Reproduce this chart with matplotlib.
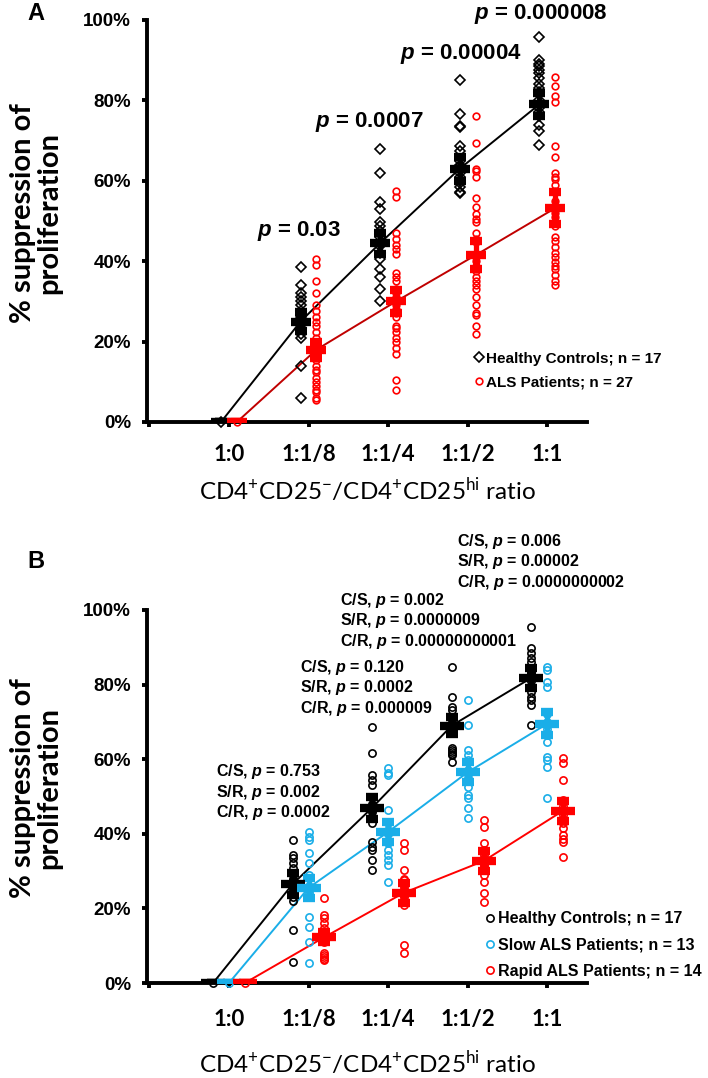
import numpy as np
import matplotlib.pyplot as plt
from matplotlib.lines import Line2D

plt.rcParams['font.family'] = ['Liberation Sans', 'DejaVu Sans']
plt.rcParams['mathtext.fontset'] = 'custom'
plt.rcParams['mathtext.rm'] = 'Lato'
plt.rcParams['mathtext.it'] = 'Liberation Sans:italic:bold'
plt.rcParams['mathtext.bf'] = 'Lato:bold'

ratios = ['1:0', '1:1/8', '1:1/4', '1:1/2', '1:1']

# ---- panel A: controls vs all ALS patients (% suppression)
hc_a = [
    [0],
    [38.5, 34, 32, 31, 30, 29, 27.5, 26.5, 26, 25.5, 25, 24.5, 23.5, 22, 21, 14, 6],
    [68, 62, 54.7, 53, 49.7, 48.7, 47.5, 46.7, 46, 44.5, 43.7, 42, 40.5, 38, 36, 33, 30],
    [85, 76.5, 73.7, 73.5, 68.7, 67.5, 65, 64, 63.7, 63, 62, 61, 60, 59.5, 58.5, 57.2, 57],
    [95.7, 90, 89, 88.5, 87.5, 86.7, 85.5, 84, 83, 82, 80, 78, 77, 76, 74, 72.5, 69],
]
als_a = [
    [0],
    [40.5, 39, 35, 32, 29, 27.5, 26, 25, 24, 22.5, 21, 20, 19, 18, 17, 16.5, 15.5, 14, 13,
     12.5, 11, 10, 9, 8, 7.5, 6, 5.5],
    [57.5, 56, 47, 45.5, 44, 43, 41.7, 37, 36, 35, 33, 32, 31, 30, 29, 28, 27, 26, 24, 23.5,
     22.5, 21, 20, 18.5, 17, 10.5, 8],
    [76, 69.5, 63, 62.5, 61, 55.7, 53.5, 51.7, 50.5, 49.7, 47, 45.5, 44.7, 41, 40, 38.7, 37.5,
     36, 35, 34, 33, 31, 29, 27, 26.7, 24, 22],
    [85.7, 83.7, 81, 79.5, 68.7, 66, 62, 61, 60.5, 59, 57.5, 55, 53, 52, 51, 48.7, 46, 45,
     43.5, 42, 41, 39.7, 38.7, 38, 36.5, 35, 34],
]
hc_a_mean = [0, 25, 44.5, 63, 79]
hc_a_sem = [0, 2.4, 2.6, 3, 2.8]
als_a_mean = [0, 18, 30, 41.5, 53.2]
als_a_sem = [0, 2, 2.9, 3.5, 4]
p_a = ['0.03', '0.0007', '0.00004', '0.000008']
p_a_x = [0.88, 1.77, 2.92, 3.92]
p_a_y = [47.5, 74.6, 91.5, 101.5]

# ---- panel B: controls vs slow vs rapid ALS
hc_b = [
    [0],
    [38.3, 34.3, 33.5, 32.2, 30.8, 29, 28, 27.5, 27, 26, 25.7, 25, 24.4, 23, 22, 14.2, 5.6],
    [68.6, 61.7, 55.8, 54.4, 53, 49.9, 48, 47.5, 46.5, 45.8, 44.5, 43, 37.8, 36.5, 35.7, 33, 30.3],
    [84.7, 76.7, 74, 73.2, 71, 70, 69.5, 69, 68.5, 68, 67, 63, 62.5, 62, 61.5, 61.1, 59.2],
    [95.4, 89.8, 88.5, 87.1, 86, 84.5, 83.5, 83, 82.5, 82, 81, 79.4, 78, 76.7, 75.9, 74.5, 69.2],
]
slow_b = [
    [0],
    [40.5, 39.1, 38.3, 34.9, 32.2, 29, 26, 25, 24.1, 17.7, 15, 11, 5.4],
    [57.6, 56.3, 55.8, 46.4, 43, 41, 40, 37.5, 35.7, 34.3, 33, 31.6, 27],
    [75.9, 69.2, 62.5, 61.1, 59.8, 57, 56, 55, 52.5, 50.4, 49.6, 46.9, 44.2],
    [84.7, 83.9, 80.7, 79.4, 72, 70, 68, 66.5, 64.6, 60.6, 59.8, 57.9, 49.6],
]
rapid_b = [
    [0],
    [22.8, 18.2, 17.4, 16.1, 14.7, 13.4, 12.5, 12, 11, 8, 7.5, 7, 6.5, 6.2],
    [37.5, 35.7, 30.3, 28, 27.6, 26.5, 25.7, 25, 24.4, 23.5, 23, 21, 10.2, 8],
    [43.7, 41.8, 37.5, 35.7, 34.3, 33.5, 33, 32, 31.5, 30.8, 29, 27, 24.1, 21.7],
    [60.3, 59, 54.4, 49, 47.5, 46.5, 46, 45, 42.9, 41.6, 39.7, 38.5, 37.8, 33.8],
]
hc_b_mean = [0, 26.5, 47, 69, 81.8]
hc_b_sem = [0, 3, 3, 2.3, 2.6]
slow_b_mean = [0, 25.5, 40.5, 56.5, 69.5]
slow_b_sem = [0, 2.7, 2.7, 2.7, 3.1]
rapid_b_mean = [0, 12.3, 24.2, 32.7, 46.2]
rapid_b_sem = [0, 1.3, 2.7, 2.7, 2.7]
p_b = [
    ['0.753', '0.002', '0.0002'],
    ['0.120', '0.0002', '0.000009'],
    ['0.002', '0.0000009', '0.00000000001'],
    ['0.006', '0.00002', '0.0000000002'],
]
p_b_x = [-0.16, 0.89, 1.39, 2.86]
p_b_y = [51.2, 79.1, 97.1, 112.9]

BLUE = '#1AAEE8'
RED = '#FF0000'


def style_axes(ax, tick_pad, label_pad):
    ax.set_xlim(-1.03, 4.5)
    ax.set_ylim(0, 100)
    for s in ['top', 'right']:
        ax.spines[s].set_visible(False)
    for s in ['left', 'bottom']:
        ax.spines[s].set_linewidth(2.8)
    ax.set_yticks(np.arange(0, 101, 20))
    ax.set_yticklabels([f'{v}%' for v in range(0, 101, 20)], fontsize=13.5,
                       fontweight='bold')
    ax.set_xticks(np.arange(-1, 5))
    ax.set_xticklabels([''] + ratios, fontsize=16, fontweight='bold', family='Lato')
    ax.tick_params(axis='y', direction='out', length=3.5, width=2.8, pad=8)
    ax.tick_params(axis='x', direction='out', length=3.5, width=2.8, pad=tick_pad)
    ax.set_xlabel(r'CD4$^{+}$CD25$^{-}$/CD4$^{+}$CD25$^{\mathrm{hi}}$ ratio',
                  fontsize=17.5, family='Lato', labelpad=label_pad)
    ax.set_ylabel('% suppression of\nproliferation', fontsize=21, family='Lato',
                  fontweight='bold', va='center', linespacing=1.0)


def draw_group(ax, pts, mean, sem, dx, color, pmarker, pms, line_color, bar_ms,
               line_marker=None):
    x = np.arange(len(ratios)) + dx
    ax.plot(x, mean, color=line_color, lw=1.4, zorder=2,
            marker=line_marker, ms=4.5, mfc=color, mec=color)
    for i, vals in enumerate(pts):
        ax.plot(np.full(len(vals), x[i]), vals, ls='none', marker=pmarker, ms=pms,
                mfc='none', mec=color, mew=1.2, zorder=3, clip_on=False)
    ax.errorbar(x, mean, yerr=sem, fmt='_', ms=bar_ms, mew=6, color=color,
                ecolor=color, elinewidth=3.8, capsize=4, capthick=3.2, zorder=4)


fig = plt.figure(figsize=(7.08, 10.78), dpi=100)

# ---------------- panel A
axA = fig.add_axes([147 / 708, 1 - 422 / 1078, 440 / 708, 402 / 1078])
style_axes(axA, 12, 8)
axA.yaxis.set_label_coords(-0.252, 0.52)
draw_group(axA, hc_a, hc_a_mean, hc_a_sem, -0.1, 'black', 'D', 4.6, 'black', 15)
draw_group(axA, als_a, als_a_mean, als_a_sem, 0.1, RED, 'o', 4.8, '#C00000', 15)
for xp, yp, p in zip(p_a_x, p_a_y, p_a):
    axA.text(xp, yp, r'$\mathit{p}$ = ' + p, ha='center', va='center',
             fontsize=16, fontweight='bold')
leg_a = [Line2D([], [], ls='none', marker='D', ms=4.6, mfc='none', mec='black', mew=1.2),
         Line2D([], [], ls='none', marker='o', ms=4.8, mfc='none', mec=RED, mew=1.2)]
axA.legend(leg_a, ['Healthy Controls; n = 17', 'ALS Patients; n = 27'],
           loc='upper left', bbox_to_anchor=(0.745, 0.175), frameon=False,
           prop=dict(family='Liberation Sans', weight='bold', size=11),
           handlelength=0.5, handletextpad=0.25, labelspacing=0.62,
           borderpad=0, borderaxespad=0)
fig.text(36 / 708, 1 - 13 / 1078, 'A', ha='center', va='center', fontsize=17,
         fontweight='bold')

# ---------------- panel B
axB = fig.add_axes([147 / 708, 1 - 983 / 1078, 440 / 708, 373 / 1078])
style_axes(axB, 15, 14)
axB.yaxis.set_label_coords(-0.252, 0.523)
draw_group(axB, hc_b, hc_b_mean, hc_b_sem, -0.2, 'black', 'o', 5.2, 'black', 17, 'D')
draw_group(axB, slow_b, slow_b_mean, slow_b_sem, 0.0, BLUE, 'o', 5.2, BLUE, 17, 'o')
draw_group(axB, rapid_b, rapid_b_mean, rapid_b_sem, 0.2, RED, 'o', 5.2, RED, 17, 'o')
for xp, yp, ps in zip(p_b_x, p_b_y, p_b):
    txt = '\n'.join([f'{lab}, ' + r'$\mathit{p}$ = ' + v
                     for lab, v in zip(['C/S', 'S/R', 'C/R'], ps)])
    axB.text(xp, yp, txt, ha='left', va='center', fontsize=11.5, fontweight='bold',
             linespacing=1.1)
leg_b = [Line2D([], [], ls='none', marker='o', ms=5.2, mfc='none', mec=c, mew=1.2)
         for c in ['black', BLUE, RED]]
axB.legend(leg_b, ['Healthy Controls; n = 17', 'Slow ALS Patients; n = 13',
                   'Rapid ALS Patients; n = 14'],
           loc='upper left', bbox_to_anchor=(0.77, 0.192), frameon=False,
           prop=dict(family='Liberation Sans', weight='bold', size=11.5),
           handlelength=0.5, handletextpad=0.25, labelspacing=0.7,
           borderpad=0, borderaxespad=0)
fig.text(36 / 708, 1 - 561 / 1078, 'B', ha='center', va='center', fontsize=17,
         fontweight='bold')

fig.savefig('out.png', dpi=100)
